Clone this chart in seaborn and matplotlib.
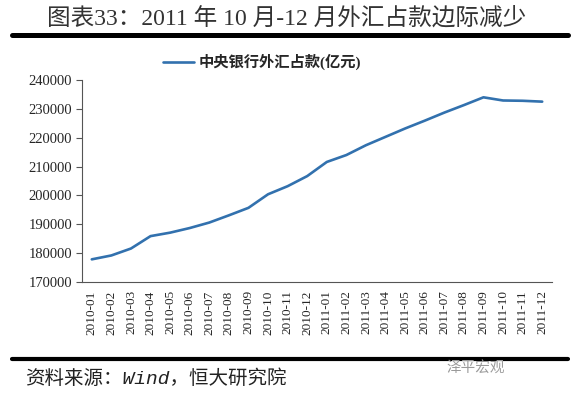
import pandas as pd
import seaborn as sns
import matplotlib.pyplot as plt
from matplotlib.lines import Line2D

# 数据：中央银行外汇占款(亿元)，读自原图
months = ['2010-01', '2010-02', '2010-03', '2010-04', '2010-05', '2010-06',
          '2010-07', '2010-08', '2010-09', '2010-10', '2010-11', '2010-12',
          '2011-01', '2011-02', '2011-03', '2011-04', '2011-05', '2011-06',
          '2011-07', '2011-08', '2011-09', '2011-10', '2011-11', '2011-12']
fx_holdings = [177850, 179200, 181600, 185900, 187100, 188700,
               190600, 193100, 195700, 200400, 203200, 206700,
               211600, 214000, 217400, 220300, 223200, 225900,
               228700, 231300, 234000, 232900, 232800, 232500]
y_ticks = [170000, 180000, 190000, 200000, 210000, 220000, 230000, 240000]
series_name = '中央银行外汇占款(亿元)'

sns.set_style('white')
plt.rcParams['font.family'] = ['Liberation Serif', 'Noto Sans CJK SC', 'DejaVu Sans']

tab = pd.DataFrame({'month': months, 'value': fx_holdings})
tab['pos'] = range(len(months))

fig = plt.figure(figsize=(5.74, 3.94), dpi=100)
ax = fig.add_axes([82 / 574, 1 - 282 / 394, 470 / 574, 202 / 394])

line_color = '#3271AE'
sns.lineplot(data=tab, x='pos', y='value', ax=ax, color=line_color, linewidth=1.9)

ax.set_xlim(-0.5, len(months) - 0.5)
ax.set_ylim(170000, 240000)
ax.set_yticks(y_ticks)
ax.set_yticklabels([str(v) for v in y_ticks], fontsize=10.5)
ax.set_xticks(tab['pos'])
ax.set_xticklabels(months, rotation=90, fontsize=9.5)
ax.set_xticks([i - 0.5 for i in range(len(months) + 1)], minor=True)
ax.tick_params(axis='x', which='major', length=0, pad=6)
ax.tick_params(axis='x', which='minor', length=4, color='#555555', width=0.8)
ax.tick_params(axis='y', length=4, color='#555555', width=0.8, pad=3, left=True)
ax.set_xlabel('')
ax.set_ylabel('')
for s in ['top', 'right']:
    ax.spines[s].set_visible(False)
for s in ['left', 'bottom']:
    ax.spines[s].set_color('#555555')
    ax.spines[s].set_linewidth(0.8)

# 图例
handle = Line2D([], [], color=line_color, linewidth=1.9)
fig.legend([handle], [series_name], loc='center', bbox_to_anchor=(262 / 574, 1 - 62 / 394),
           frameon=False, prop={'family': ['Liberation Serif', 'Noto Sans CJK SC'],
                                'weight': 'bold', 'size': 11},
           handlelength=2.0, handletextpad=0.3)

# 标题与横线
fig.text(0.5, 1 - 18 / 394, '图表33：2011 年 10 月-12 月外汇占款边际减少', ha='center', va='center',
         fontsize=17, color='#333333', fontweight='light')
fig.add_artist(Line2D([12 / 574, 568 / 574], [1 - 35 / 394, 1 - 35 / 394], color='black',
                      linewidth=3.6, transform=fig.transFigure))
fig.add_artist(Line2D([12 / 574, 568 / 574], [1 - 359 / 394, 1 - 359 / 394], color='black',
                      linewidth=3.0, transform=fig.transFigure))

# 来源
fig.text(25 / 574, 1 - 379 / 394, '资料来源：Wind，恒大研究院', ha='left', va='center',
         fontsize=14, style='italic', color='#222222',
         family=['Liberation Mono', 'Noto Sans CJK SC'])
fig.text(505 / 574, 1 - 368 / 394, '泽平宏观', ha='right', va='center', fontsize=10.5,
         color='#9a9a9a', family=['Noto Sans CJK SC'])

fig.savefig('out.png', dpi=100)
